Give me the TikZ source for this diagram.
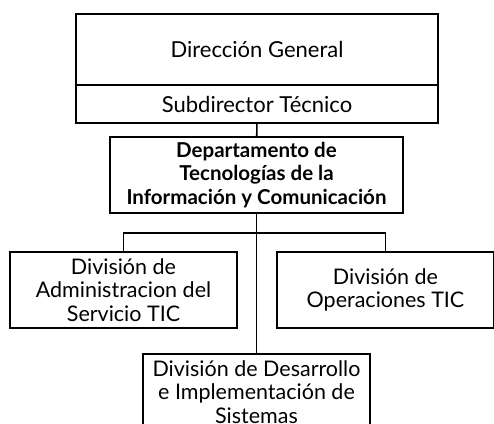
\documentclass[tikz,border=0pt]{standalone}
\usepackage{fontspec}
\setmainfont{Lato}
\usepackage{tikz}
\usetikzlibrary{calc}
\tikzset{
  caja/.style={draw, line width=1.6pt, rectangle, align=center, inner sep=1pt, font=\fontsize{21.5}{23.5}\selectfont},
  cajab/.style={caja, font=\bfseries\fontsize{20.5}{23.5}\selectfont},
  linea/.style={line width=1.6pt}
}

\begin{document}
\begin{tikzpicture}[x=1pt, y=-1pt]
        \useasboundingbox (0,0) rectangle (494,423);
        % top
        \node[caja, minimum width=362pt, minimum height=71pt, font=\fontsize{22}{24}\selectfont] (dir) at ( 257 , 49.5 ){Dirección General};
        \node[caja, minimum width=362pt, minimum height=38pt, font=\fontsize{22}{24}\selectfont] (sub) at ( 257 , 104 ){Subdirector Técnico};
        % middle
        \node[cajab, minimum width=293pt, minimum height=76pt] (dep) at ( 256.5 , 175 ){Departamento de\\Tecnologías de la\\Información y Comunicación};
        % divisions
        \node[caja, minimum width=227pt, minimum height=76pt] (adm) at ( 123.5 , 290 ){División de\\Administracion del\\Servicio TIC};
        \node[caja, minimum width=217pt, minimum height=76pt] (ope) at ( 385.5 , 290 ){División de\\Operaciones TIC};
        \node[caja, minimum width=227pt, minimum height=76pt, anchor=north] (des) at ( 256.5 , 353 ){División de Desarrollo\\e Implementación de\\Sistemas};

        % lines
        \coordinate (bus) at ( 257 , 233 );
        \draw[linea] (sub) -- (dep);
        \draw[linea] (dep) -- (des);
        \draw[linea] (adm) |- (bus) -| (ope);
    \end{tikzpicture}
\end{document}
